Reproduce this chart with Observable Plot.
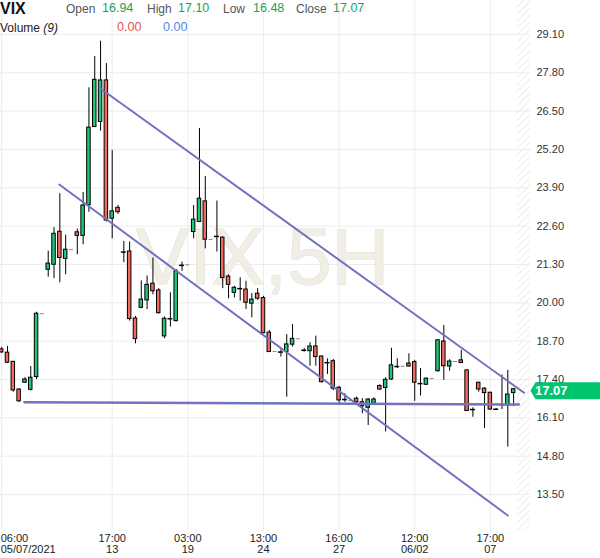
<!DOCTYPE html>
<html>
<head>
<meta charset="utf-8">
<script src="https://cdn.jsdelivr.net/npm/d3@7"></script>
<script src="https://cdn.jsdelivr.net/npm/@observablehq/plot@0.6"></script>
<style>
  html, body { margin: 0; padding: 0; background: #fff; }
  #wrap { position: relative; width: 600px; height: 558px; font-family: "Liberation Sans", Arial, sans-serif; }
  #chart { position: absolute; left: 0; top: 0; }
  .h { position: absolute; white-space: nowrap; line-height: 1; font-size: 12px; }
  .lbl { color: #555; }
  .g { color: #1a9f5e; }
  .r { color: #e0524c; }
  .b { color: #4a86e8; }
</style>
</head>
<body>
<div id="wrap">
  <div id="chart"></div>
  <span class="h" style="left:0;top:1px;font-size:16px;font-weight:bold;color:#111;">VIX</span>
  <span class="h lbl" style="left:66px;top:3px;">Open</span>
  <span class="h g" style="left:102px;top:2px;font-size:12.5px;">16.94</span>
  <span class="h lbl" style="left:147px;top:3px;">High</span>
  <span class="h g" style="left:178px;top:2px;font-size:12.5px;">17.10</span>
  <span class="h lbl" style="left:223px;top:3px;">Low</span>
  <span class="h g" style="left:253px;top:2px;font-size:12.5px;">16.48</span>
  <span class="h lbl" style="left:296px;top:3px;">Close</span>
  <span class="h g" style="left:333px;top:2px;font-size:12.5px;">17.07</span>
  <span class="h" style="left:0;top:22px;color:#222;">Volume <i>(9)</i></span>
  <span class="h r" style="left:117px;top:21px;font-size:12.5px;">0.00</span>
  <span class="h b" style="left:163px;top:21px;font-size:12.5px;">0.00</span>
</div>
<script>
// ---- data (5H candles, VIX) ----
const opens  = [18.42,18.31,18.00,17.06,17.29,17.05,17.48,19.63,21.12,21.29,22.41,21.49,21.80,22.39,22.27,23.31,25.96,26.13,27.54,22.85,23.22,21.72,21.74,19.47,19.83,20.08,20.65,20.42,18.86,19.46,19.38,21.27,21.29,22.40,22.74,23.44,22.15,22.25,22.21,20.89,20.34,20.48,20.45,19.97,20.31,20.16,18.99,18.35,18.33,18.33,18.58,18.78,18.39,18.36,18.52,18.18,17.97,18.02,17.12,16.72,16.69,16.75,16.63,16.44,16.58,17.18,17.11,17.40,17.84,17.85,17.94,17.99,17.26,17.22,17.43,17.68,18.69,17.84,18.01,18.05,17.71,16.38,17.29,17.09,16.95,16.39,16.55,16.52,16.94];
const highs  = [18.49,18.52,18.00,17.08,17.46,17.84,19.68,19.63,21.75,22.55,23.70,22.29,21.80,22.50,23.74,27.29,28.35,28.87,28.11,25.17,23.30,22.08,22.06,19.54,20.74,20.91,21.52,20.48,19.52,20.34,21.13,21.38,21.29,23.30,25.91,24.28,22.15,23.45,22.23,20.95,20.56,20.85,20.73,20.31,20.48,20.22,19.06,18.35,18.41,18.92,19.26,18.78,18.45,18.65,18.87,18.20,18.10,18.08,17.17,16.92,16.69,16.80,16.75,16.75,16.78,17.22,17.46,18.46,18.10,17.85,18.27,18.05,17.77,17.45,17.43,18.75,19.23,18.07,18.01,18.39,17.71,16.44,17.31,17.12,16.97,16.42,17.55,17.71,17.10];
const lows   = [18.28,17.94,16.97,16.62,17.27,17.01,17.40,19.63,20.87,20.82,20.68,20.95,21.80,21.63,21.97,23.07,25.94,25.82,22.74,22.17,23.00,21.36,19.38,18.61,19.80,19.77,20.27,19.61,18.78,19.18,19.35,21.07,21.29,22.17,22.72,21.83,22.15,21.72,20.48,20.14,20.16,20.06,19.77,19.49,20.08,18.95,18.33,18.35,18.16,16.80,18.50,18.78,18.33,17.85,17.85,17.28,17.57,17.02,16.52,16.63,16.69,16.59,16.24,15.84,16.55,17.03,15.62,17.37,17.77,17.85,17.82,16.66,16.84,17.20,17.43,17.65,17.37,17.68,18.01,17.94,16.33,16.12,16.97,15.74,16.36,16.36,16.38,15.11,16.48];
const closes = [18.32,17.97,17.03,16.66,17.40,17.46,19.63,19.63,21.33,22.34,21.52,21.80,21.80,22.27,23.30,25.94,27.56,27.54,22.79,23.10,23.07,21.72,19.45,18.77,20.11,20.61,20.39,19.65,19.46,19.46,21.07,21.27,21.29,22.82,23.53,22.14,22.15,22.25,20.84,20.61,20.51,20.48,20.00,20.11,20.14,18.97,18.33,18.35,18.33,18.59,18.78,18.78,18.39,18.52,18.16,17.31,17.97,17.09,16.69,16.72,16.69,16.63,16.49,16.72,16.72,17.06,17.39,17.88,17.84,17.85,17.84,17.29,17.26,17.43,17.43,18.73,17.85,18.01,18.01,17.96,16.33,16.38,17.06,16.94,16.38,16.39,16.55,16.89,17.07];

// axis ticks
const yTicks = [13.5, 14.8, 16.1, 17.4, 18.7, 20.0, 21.3, 22.6, 23.9, 25.2, 26.5, 27.8, 29.1];
const xTickIdx = [0, 19, 32, 45, 58, 71, 84];
const xTickTime = ["06:00", "17:00", "03:00", "13:00", "16:00", "12:00", "17:00"];
const xTickDate = ["05/07/2021", "13", "19", "24", "27", "06/02", "07"];

// trend lines drawn on the chart (index, value)
const trendUpperIdx = [16.8, 89.8],  trendUpperVal = [27.29, 16.95];
const trendLowerIdx = [9.9, 87.0],   trendLowerVal = [24.01, 12.79];
const trendFlatIdx  = [3.9, 88.9],   trendFlatVal  = [16.63, 16.55];

const lastClose = [closes[closes.length - 1]];
const nowIdx = [88.6]; // start of the future (hatched) zone

// ---- build tables ----
const candles = opens.map((o, i) => ({ i, o, h: highs[i], l: lows[i], c: closes[i] }));
const flat = candles.filter(d => d.h === d.l);
const live = candles.filter(d => d.h !== d.l);
const bodies = live.filter(d => d.o !== d.c);
const dojis = live.filter(d => d.o === d.c);
const mk = (xs, ys) => xs.map((x, k) => ({ x, y: ys[k] }));
const xLabel = new Map(xTickIdx.map((t, k) => [t, xTickTime[k] + "\n" + xTickDate[k]]));

const GREEN = "#1fc67a", RED = "#f26a5e", LINE = "#7272c0";
const badge = { draw(ctx) { ctx.moveTo(0, 0); ctx.lineTo(5, -8.5); ctx.lineTo(72, -8.5); ctx.lineTo(72, 8.5); ctx.lineTo(5, 8.5); ctx.closePath(); } };

const xDomain = [-0.2, 90.9];
const chart = Plot.plot({
  width: 600,
  height: 558,
  marginLeft: 0,
  marginRight: 70,
  marginTop: 0,
  marginBottom: 28,
  style: { fontFamily: "Liberation Sans, Arial, sans-serif", fontSize: "11px", color: "#222", background: "transparent" },
  x: { domain: xDomain },
  y: { domain: [12.28, 30.25] },
  marks: [
    Plot.rect(nowIdx, { x1: d => d, x2: xDomain[1], y1: 12.28, y2: 30.25, fill: "url(#hatch)" }),
    Plot.gridY(yTicks, { stroke: "#ececec", strokeOpacity: 1 }),
    Plot.gridX(xTickIdx, { stroke: "#ececec", strokeOpacity: 1 }),
    Plot.text(["VIX,5H"], { frameAnchor: "middle", dx: -3, dy: -7, fontSize: 80, fill: "#f1eee6", stroke: "#e2ddcf", strokeWidth: 1, fontFamily: "Liberation Sans, Arial, sans-serif" }),
    Plot.axisY(yTicks, { anchor: "right", tickSize: 0, tickPadding: 6, tickFormat: d => d.toFixed(2), fontSize: 11, fill: "#333" }),
    Plot.axisX(xTickIdx.slice(1), { anchor: "bottom", tickSize: 0, tickPadding: 4, lineHeight: 1.0, tickFormat: d => xLabel.get(d), fontSize: 11, fill: "#222" }),
    Plot.axisX(xTickIdx.slice(0, 1), { anchor: "bottom", tickSize: 0, tickPadding: 4, lineHeight: 1.0, textAnchor: "start", dx: -1, tickFormat: d => xLabel.get(d), fontSize: 11, fill: "#222" }),
    Plot.ruleX(live, { x: "i", y1: "l", y2: "h", stroke: "#000", strokeWidth: 1 }),
    Plot.rect(bodies, { x1: d => d.i - 0.3, x2: d => d.i + 0.3, y1: "o", y2: "c", fill: d => d.c >= d.o ? GREEN : RED, stroke: "#000", strokeWidth: 1 }),
    Plot.ruleY(dojis, { y: "c", x1: d => d.i - 0.42, x2: d => d.i + 0.42, stroke: "#000", strokeWidth: 1.5 }),
    Plot.ruleY(flat, { y: "c", x1: d => d.i - 0.35, x2: d => d.i + 0.35, stroke: "#8a8a8a", strokeWidth: 1 }),
    Plot.line(mk(trendUpperIdx, trendUpperVal), { x: "x", y: "y", stroke: LINE, strokeWidth: 2 }),
    Plot.line(mk(trendLowerIdx, trendLowerVal), { x: "x", y: "y", stroke: LINE, strokeWidth: 2 }),
    Plot.line(mk(trendFlatIdx, trendFlatVal), { x: "x", y: "y", stroke: LINE, strokeWidth: 2.5 }),
    Plot.dot(lastClose, { y: d => d, frameAnchor: "right", dy: 1.5, symbol: badge, r: 5, fill: "#00c46e", stroke: "none" }),
    Plot.text(lastClose, { y: d => d, frameAnchor: "right", dx: 37, dy: 1.5, text: d => d.toFixed(2), fill: "#fff", fontWeight: "bold", fontSize: 13 })
  ]
});

// hatch pattern for the future zone
const ns = "http://www.w3.org/2000/svg";
const defs = document.createElementNS(ns, "defs");
defs.innerHTML = '<pattern id="hatch" patternUnits="userSpaceOnUse" width="5" height="5" patternTransform="rotate(45)"><rect width="5" height="5" fill="#fff"/><line x1="0" y1="0" x2="0" y2="5" stroke="#e6e6e6" stroke-width="1.5"/></pattern>';
chart.insertBefore(defs, chart.firstChild);
document.getElementById("chart").appendChild(chart);
</script>
</body>
</html>
